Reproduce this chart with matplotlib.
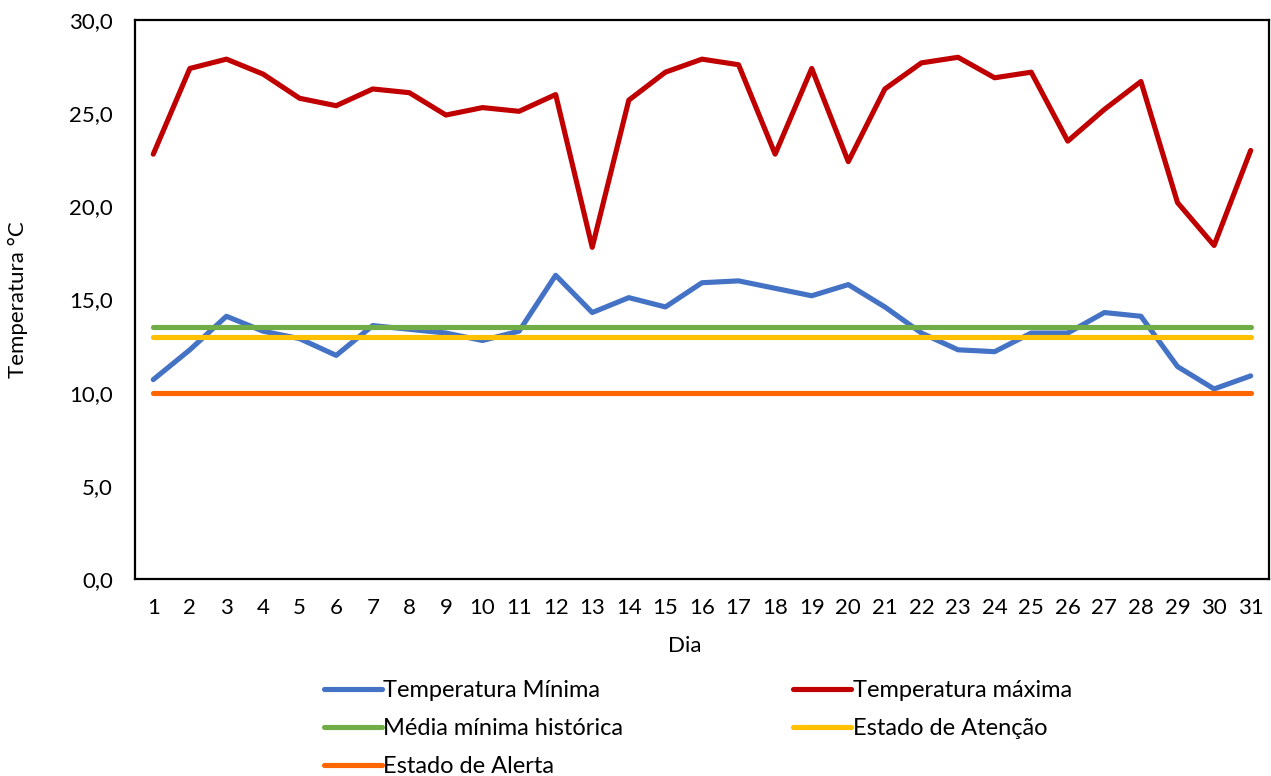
import matplotlib.pyplot as plt
from matplotlib.ticker import FuncFormatter

plt.rcParams['font.family'] = ['Lato', 'DejaVu Sans']

dias = list(range(1, 32))
temp_min = [10.7, 12.3, 14.1, 13.3, 12.9, 12.0, 13.6, 13.4, 13.2, 12.8, 13.3,
            16.3, 14.3, 15.1, 14.6, 15.9, 16.0, 15.6, 15.2, 15.8, 14.6, 13.2,
            12.3, 12.2, 13.2, 13.2, 14.3, 14.1, 11.4, 10.2, 10.9]
temp_max = [22.8, 27.4, 27.9, 27.1, 25.8, 25.4, 26.3, 26.1, 24.9, 25.3, 25.1,
            26.0, 17.8, 25.7, 27.2, 27.9, 27.6, 22.8, 27.4, 22.4, 26.3, 27.7,
            28.0, 26.9, 27.2, 23.5, 25.2, 26.7, 20.2, 17.9, 23.0]
media_historica = 13.5
estado_atencao = 13.0
estado_alerta = 10.0

fs = 16

fig = plt.figure(figsize=(12.71, 7.76), dpi=100)
ax = fig.add_axes([0.1062, 0.2539, 0.8922, 0.7203])

lw = 3.7
l_min, = ax.plot(dias, temp_min, color='#4472C4', lw=lw, solid_capstyle='round',
                 solid_joinstyle='round', label='Temperatura Mínima')
l_max, = ax.plot(dias, temp_max, color='#C00000', lw=lw, solid_capstyle='round',
                 solid_joinstyle='round', label='Temperatura máxima')
l_med, = ax.plot(dias, [media_historica] * len(dias), color='#70AD47', lw=lw,
                 solid_capstyle='round', label='Média mínima histórica')
l_at, = ax.plot(dias, [estado_atencao] * len(dias), color='#FFC000', lw=lw,
                solid_capstyle='round', label='Estado de Atenção')
l_al, = ax.plot(dias, [estado_alerta] * len(dias), color='#FF6600', lw=lw,
                solid_capstyle='round', label='Estado de Alerta')

ax.set_xlim(0.5, 31.5)
ax.set_ylim(0, 30)
ax.set_xticks(dias)
ax.set_yticks([0, 5, 10, 15, 20, 25, 30])
ax.yaxis.set_major_formatter(FuncFormatter(lambda v, p: f'{v:.1f}'.replace('.', ',')))
ax.tick_params(length=0, labelsize=fs)
ax.tick_params(axis='x', pad=14)
ax.tick_params(axis='y', pad=16)
for s in ax.spines.values():
    s.set_linewidth(1.6)
    s.set_color('black')

ax.set_xlabel('Dia', fontsize=fs, va='center')
ax.set_ylabel('Temperatura °C', fontsize=fs, va='center')
ax.xaxis.set_label_coords(0.485, -0.12)
ax.yaxis.set_label_coords(-0.103, 0.5)

# legend laid out in two columns, filled row by row
handles = [l_min, l_med, l_al, l_max, l_at]
fig.legend(handles=handles, labels=[h.get_label() for h in handles], ncol=2,
           loc='upper left', bbox_to_anchor=(0.2454, 0.139), frameon=False,
           fontsize=17, handlelength=2.45, handletextpad=0.08, columnspacing=7.2,
           labelspacing=0.72, borderpad=0)

fig.savefig('out.png', dpi=100)
